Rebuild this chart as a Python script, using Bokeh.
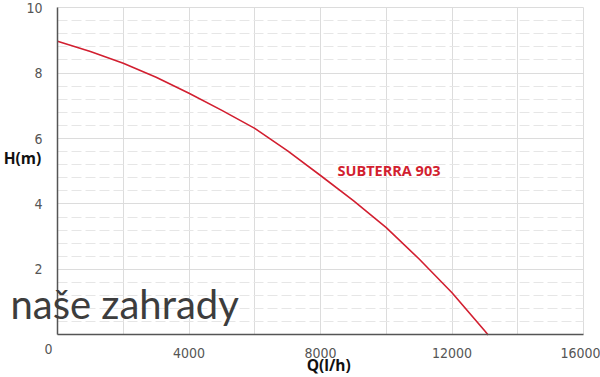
from bokeh.plotting import figure
from bokeh.models import FixedTicker, Label, Range1d, LinearAxis
from bokeh.embed import file_html
from bokeh.resources import INLINE

# Pump curve SUBTERRA 903
flow = [0, 1000, 2000, 3000, 4000, 5000, 6000, 7000, 8000, 9000, 10000, 11000, 12000, 13000, 13100]
head = [8.97, 8.66, 8.30, 7.87, 7.38, 6.86, 6.31, 5.62, 4.87, 4.10, 3.28, 2.32, 1.29, 0.12, 0.0]

x_ticks = [0, 4000, 8000, 12000, 16000]
x_minor = [2000, 6000, 10000, 14000]
y_ticks = [2, 4, 6, 8, 10]
y_minor = [round(i * 0.4, 1) for i in range(1, 25) if i % 5]

series_name = "SUBTERRA 903"
x_title = "Q(l/h)"
y_title = "H(m)"
watermark = "naše zahrady"

RED = "#d21f30"
TICK_FONT = "Liberation Sans Narrow, DejaVu Sans Condensed, sans-serif"

p = figure(width=600, height=377, output_backend="svg", toolbar_location=None,
           x_axis_location=None, y_axis_location=None,
           x_range=Range1d(-1734, 16517), y_range=Range1d(-1.298, 10.214),
           min_border_left=0, min_border_right=0, min_border_top=0, min_border_bottom=0)
p.outline_line_color = None
p.background_fill_color = "white"

xaxis = LinearAxis(fixed_location=0, bounds=(0, 16000),
                   ticker=FixedTicker(ticks=x_ticks, minor_ticks=x_minor))
yaxis = LinearAxis(fixed_location=0, bounds=(0, 10),
                   ticker=FixedTicker(ticks=y_ticks, minor_ticks=y_minor))
xaxis.major_label_overrides = {0: ""}
for ax in (xaxis, yaxis):
    ax.axis_line_color = "#555555"
    ax.axis_line_width = 1.5
    ax.major_tick_line_color = None
    ax.minor_tick_line_color = None
    ax.major_label_text_font = TICK_FONT
    ax.major_label_text_font_size = "14px"
    ax.major_label_text_color = "#555555"
xaxis.major_label_standoff = 7
yaxis.major_label_standoff = 9
p.add_layout(xaxis, "below")
p.add_layout(yaxis, "left")

for g in p.xgrid:
    g.ticker = xaxis.ticker
    g.cross_bounds = (0, 10)
    g.grid_line_color = "#dcdcdc"
    g.minor_grid_line_color = "#dcdcdc"
for g in p.ygrid:
    g.ticker = yaxis.ticker
    g.cross_bounds = (0, 16000)
    g.grid_line_color = "#dcdcdc"
    g.minor_grid_line_color = "#e6e6e6"
    g.minor_grid_line_dash = "10 4"

p.line(flow, head, line_color=RED, line_width=1.6)

p.add_layout(Label(x=0, y=0, x_offset=-9, y_offset=-14.5, text="0", text_font=TICK_FONT,
                   text_font_size="14px", text_color="#555555", text_align="center",
                   text_baseline="middle"))
p.add_layout(Label(x=8517, y=5.02, text=series_name, text_font="Open Sans",
                   text_font_style="bold", text_font_size="14.5px", text_color=RED,
                   text_align="left", text_baseline="middle"))
p.add_layout(Label(x=-1065, y=5.39, text=y_title, text_font="Open Sans",
                   text_font_style="bold", text_font_size="15.5px", text_color="#111111",
                   text_align="center", text_baseline="middle"))
p.add_layout(Label(x=8250, y=-0.93, text=x_title, text_font="Open Sans",
                   text_font_style="bold", text_font_size="15.5px", text_color="#111111",
                   text_align="center", text_baseline="middle"))
p.add_layout(Label(x=-1430, y=0.96, text=watermark, text_font="Lato",
                   text_font_size="40px", text_color="#3d3d3d",
                   text_align="left", text_baseline="alphabetic"))

open("out.html", "w").write(file_html(p, INLINE))
